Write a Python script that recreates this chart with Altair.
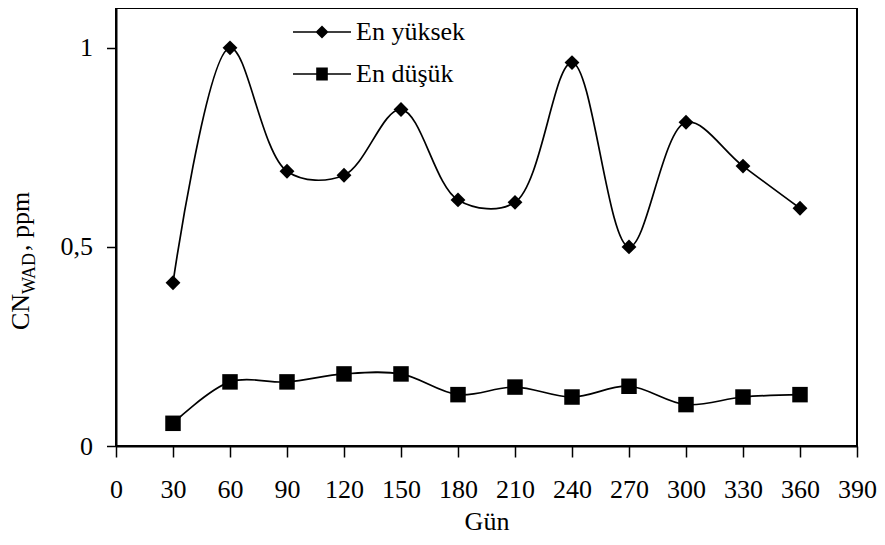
import altair as alt
import pandas as pd

# ---- data ----
days = [30, 60, 90, 120, 150, 180, 210, 240, 270, 300, 330, 360]
en_yuksek = [0.41, 1.00, 0.69, 0.68, 0.845, 0.618, 0.612, 0.963, 0.50, 0.813, 0.703, 0.597]
en_dusuk = [0.057, 0.161, 0.161, 0.181, 0.181, 0.129, 0.148, 0.123, 0.150, 0.104, 0.123, 0.129]
series_names = ["En yüksek", "En düşük"]
x_ticks = [0, 30, 60, 90, 120, 150, 180, 210, 240, 270, 300, 330, 360, 390]
y_ticks = [0, 0.5, 1]
x_title = "Gün"
y_title_parts = ["CN", "WAD", ", ppm"]

FONT = "Liberation Serif"

rows = []
for name, vals in zip(series_names, [en_yuksek, en_dusuk]):
    for d, v in zip(days, vals):
        rows.append({"gun": d, "deger": v, "seri": name})
df = pd.DataFrame(rows)

# legend symbols: a line with a marker on it (unit box paths)
diamond_path = "M-1,-0.03H1V0.03H-1Z M0,-0.224L0.224,0L0,0.224L-0.224,0Z"
square_path = "M-1,-0.03H1V0.03H-1Z M-0.2,-0.22H0.2V0.22H-0.2Z"

x_enc = alt.X(
    "gun:Q",
    scale=alt.Scale(domain=[0, 390], nice=False, zero=False),
    axis=alt.Axis(
        values=x_ticks, title=x_title, tickSize=11, labelPadding=19,
        labelFontSize=26, titleFontSize=26, titleFontWeight="normal",
        titlePadding=6, labelFlush=False,
    ),
)
y_enc = alt.Y(
    "deger:Q",
    scale=alt.Scale(domain=[0, 1.1], nice=False),
    axis=alt.Axis(
        values=y_ticks, title=None, tickSize=9.5, labelPadding=14,
        labelFontSize=26, labelFlush=False,
        labelExpr="replace(format(datum.value, '~g'), '.', ',')",
    ),
)

lines = alt.Chart(df).mark_line(
    interpolate="catmull-rom", color="black", strokeWidth=1.7
).encode(x=x_enc, y=y_enc, detail="seri:N")

points = alt.Chart(df).mark_point(filled=True, color="black", opacity=1).encode(
    x="gun:Q",
    y="deger:Q",
    shape=alt.Shape("seri:N", scale=alt.Scale(domain=series_names, range=["diamond", "square"]), legend=None),
    size=alt.Size("seri:O", scale=alt.Scale(domain=series_names, range=[220, 240]), legend=None),
)

legend_layer = alt.Chart(df).transform_filter("false").mark_point(
    filled=True, color="black", opacity=1, size=3364
).encode(
    x="gun:Q",
    y="deger:Q",
    shape=alt.Shape(
        "seri:N",
        scale=alt.Scale(domain=series_names, range=[diamond_path, square_path]),
        legend=alt.Legend(
            title=None, orient="none", legendX=177, legendY=-5,
            symbolSize=3364, symbolStrokeWidth=0, symbolFillColor="black",
            labelFont=FONT, labelFontSize=26, labelColor="black",
            labelOffset=5, rowPadding=-2, labelLimit=300,
        ),
    ),
)

def title_piece(text, size, x, y):
    return alt.Chart(pd.DataFrame({"t": [text]})).mark_text(
        angle=270, align="left", baseline="alphabetic", font=FONT,
        fontSize=size, color="black",
    ).encode(x=alt.value(x), y=alt.value(y), text="t:N")

t1 = title_piece(y_title_parts[0], 26, -87, 322)
t2 = title_piece(y_title_parts[1], 18, -81, 286)
t3 = title_piece(y_title_parts[2], 26, -87, 243)

chart = alt.layer(lines, points, legend_layer, t1, t2, t3).resolve_scale(
    shape="independent", size="independent"
).properties(
    width=741,
    height=438,
    padding={"left": 108, "top": 0, "right": 20, "bottom": 91},
    autosize=alt.AutoSizeParams(type="none"),
    background="white",
).configure_view(
    stroke="black", strokeWidth=2
).configure_axis(
    grid=False, domainColor="black", domainWidth=2, tickColor="black",
    tickWidth=1.5, labelColor="black", titleColor="black",
    labelFont=FONT, titleFont=FONT,
)

chart.save("out.html", embed_options={"renderer": "svg", "actions": False})
